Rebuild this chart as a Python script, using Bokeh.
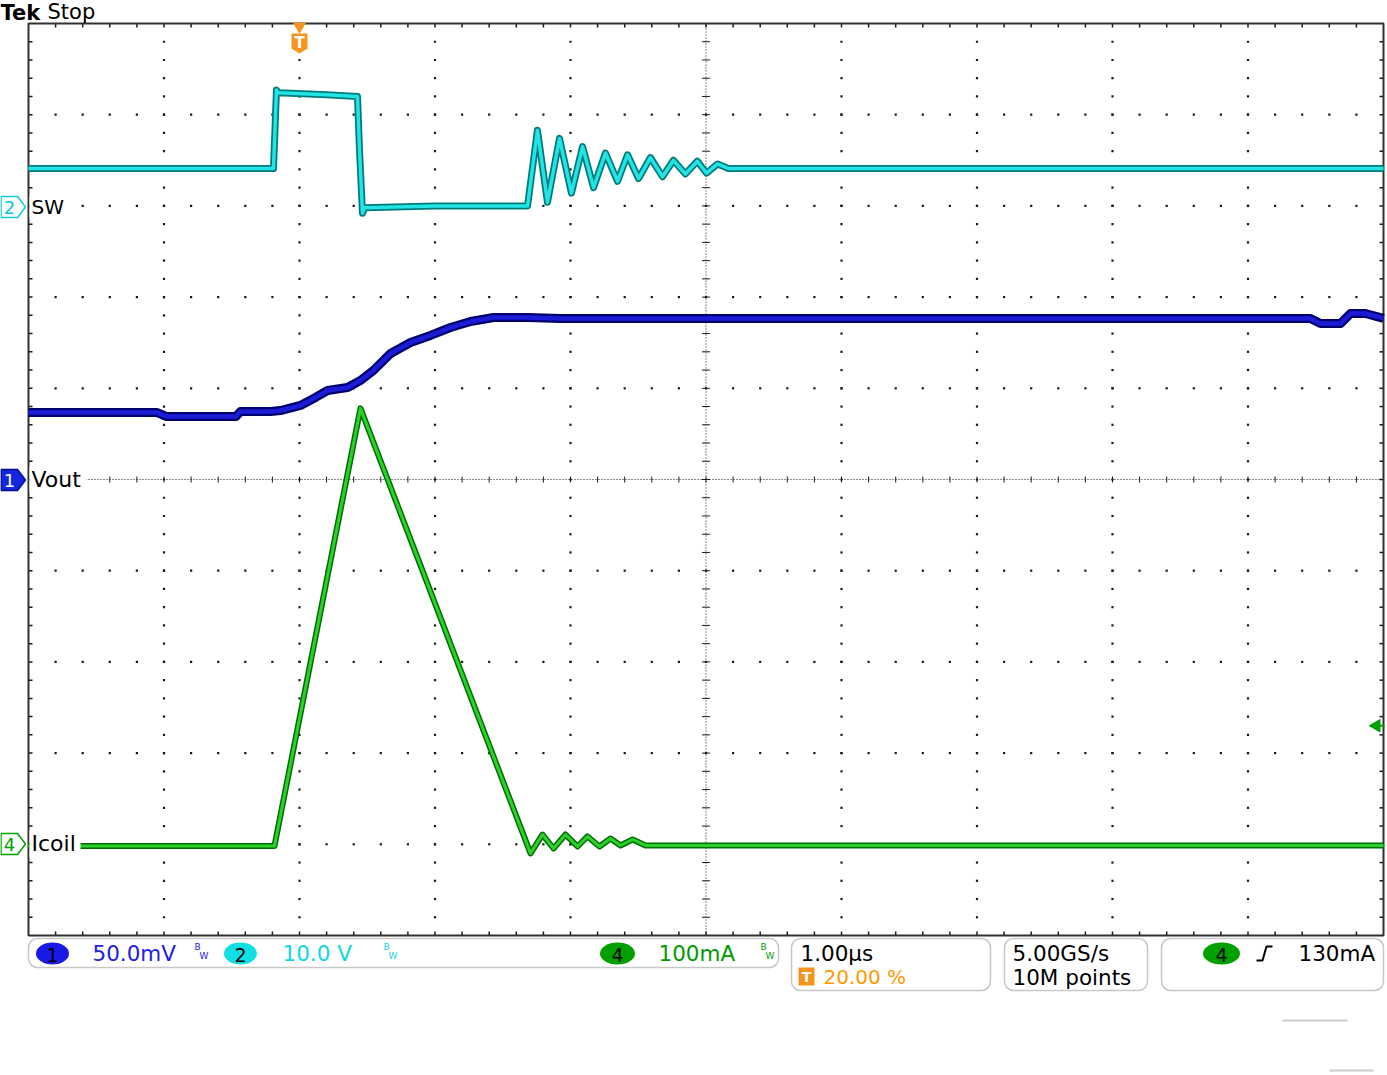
from bokeh.plotting import figure
from bokeh.models import Range1d, BoxAnnotation
from bokeh.core.properties import value
from bokeh.embed import file_html
from bokeh.resources import INLINE

# ---------------- data ----------------
# time base 1.00 us/div, trigger at 20 % of record -> t = 0 us
# CH2 "SW" : 10.0 V/div, ground marker at +3 div
sw_time_us = [-2.0, -0.192, -0.170, -0.155, 0.20, 0.428, 0.443, 0.465, 0.480, 1.00,
              1.683, 1.756, 1.830, 1.919, 2.007, 2.089, 2.170, 2.258, 2.347, 2.421,
              2.502, 2.590, 2.679, 2.760, 2.848, 2.936, 3.004, 3.085, 3.166, 8.0]
sw_volts = [4.1, 4.1, 12.7, 12.4, 12.2, 12.0, 6.1, -0.8, -0.2, 0.0,
            0.0, 8.3, 0.4, 7.4, 1.4, 6.5, 2.0, 5.8, 2.7, 5.6,
            3.0, 5.3, 3.2, 5.0, 3.5, 4.9, 3.6, 4.6, 4.1, 4.1]

# CH1 "Vout" : 50.0 mV/div, marker at 0 div
vout_time_us = [-2.0, -1.05, -0.98, -0.47, -0.435, -0.214, -0.140, 0.007, 0.118, 0.207,
                0.354, 0.450, 0.546, 0.672, 0.819, 0.967, 1.114, 1.262, 1.432, 1.683,
                1.926, 7.461, 7.535, 7.683, 7.757, 7.867, 8.0]
vout_mv = [36.7, 36.7, 34.5, 34.5, 37.3, 37.3, 37.8, 40.6, 45.0, 48.8,
           50.4, 54.3, 59.8, 69.1, 75.1, 79.0, 83.3, 86.6, 88.8, 88.8,
           88.3, 88.3, 85.5, 85.5, 91.0, 91.0, 88.3]

# CH4 "Icoil" : 100 mA/div, marker at -4 div
icoil_time_us = [-2.0, -0.185, 0.450, 1.705, 1.793, 1.875, 1.963, 2.052, 2.125, 2.214,
                 2.295, 2.369, 2.458, 2.554, 8.0]
icoil_ma = [-2.0, -2.0, 478.0, -10.0, 10.7, -4.6, 10.7, -2.4, 8.6, -2.4,
            6.4, -1.3, 5.3, -1.3, -1.3]

sw_scale, sw_offset = 10.0, 3.0
vout_scale, vout_offset = 50.0, 0.0
icoil_scale, icoil_offset = 100.0, -4.0
trigger_level_ma = 130.0

# ---------------- geometry helpers (screen pixels -> plot units, decoration only) ----
def X(px):
    return -2.0 + (px - 28.0) / 135.5

def Y(py):
    return (479.0 - py) / 91.2

BL = 8.0  # baseline correction for alphabetic text

W, H = 1386, 1072
p = figure(width=W, height=H, output_backend="svg", toolbar_location=None,
           x_range=Range1d(X(0), X(W)), y_range=Range1d(Y(H), Y(0)),
           x_axis_type=None, y_axis_type=None,
           min_border=0, min_border_left=0, min_border_right=0,
           min_border_top=0, min_border_bottom=0,
           outline_line_color=None, background_fill_color="white",
           border_fill_color="white")
p.xgrid.visible = False
p.ygrid.visible = False

dot = "#1a1a1a"
minor_x = [-2 + 0.2 * j for j in range(1, 50)]
minor_y = [-5 + 0.2 * j for j in range(1, 50)]

# graticule dots
gx, gy = [], []
for k in [-1, 0, 1, 2, 4, 5, 6, 7]:
    for yy in minor_y:
        gx.append(k); gy.append(yy)
for m in [-4, -3, -2, -1, 1, 2, 3, 4]:
    for xx in minor_x:
        gx.append(xx); gy.append(m)
p.scatter(gx, gy, marker="square", size=2.2, fill_color=dot, line_color=None)

# edge ticks
tl = 4.0
p.segment(x0=minor_x, x1=minor_x, y0=[5] * 49, y1=[5 - tl / 91.2] * 49, line_color=dot, line_width=1.5)
p.segment(x0=minor_x, x1=minor_x, y0=[-5] * 49, y1=[-5 + tl / 91.2] * 49, line_color=dot, line_width=1.5)
p.segment(x0=[-2] * 49, x1=[-2 + tl / 135.5] * 49, y0=minor_y, y1=minor_y, line_color=dot, line_width=1.5)
p.segment(x0=[8] * 49, x1=[8 - tl / 135.5] * 49, y0=minor_y, y1=minor_y, line_color=dot, line_width=1.5)

# center cross
p.line([-2, 8], [0, 0], line_color=dot, line_width=1, line_dash="1 2")
p.line([3, 3], [-5, 5], line_color=dot, line_width=1, line_dash="1 2")
p.segment(x0=minor_x, x1=minor_x, y0=[3 / 91.2] * 49, y1=[-3 / 91.2] * 49, line_color=dot, line_width=1)
p.segment(x0=[3 - 4 / 135.5] * 49, x1=[3 + 4 / 135.5] * 49, y0=minor_y, y1=minor_y, line_color=dot, line_width=1)

# frame
p.quad(left=-2, right=8, bottom=-5, top=5, fill_color=None, line_color="#303030", line_width=2)

# ---------------- traces ----------------
sw_div = [v / sw_scale + sw_offset for v in sw_volts]
vout_div = [v / vout_scale + vout_offset for v in vout_mv]
icoil_div = [v / icoil_scale + icoil_offset for v in icoil_ma]

p.line(sw_time_us, sw_div, line_color="#007a7a", line_width=7, line_join="round")
p.line(sw_time_us, sw_div, line_color="#22e4e4", line_width=3.5, line_join="round")
p.line(vout_time_us, vout_div, line_color="#00006e", line_width=9, line_join="round")
p.line(vout_time_us, vout_div, line_color="#1c1cd8", line_width=4.5, line_join="round")
p.line(icoil_time_us, icoil_div, line_color="#006e00", line_width=6, line_join="round")
p.line(icoil_time_us, icoil_div, line_color="#2cd02c", line_width=3, line_join="round")

# ---------------- channel labels at left ----------------
font = value("DejaVu Sans")
p.quad(left=[X(29), X(29), X(29)], right=[X(65), X(86), X(80)],
       top=[Y(195), Y(466), Y(830)], bottom=[Y(218), Y(492), Y(857)],
       fill_color="white", line_color=None)
p.text(x=[X(31)], y=[Y(214 - BL)], text=["SW"],
       text_font=font, text_font_size="20px", text_color="black", text_baseline="alphabetic")
p.text(x=[X(31), X(31)], y=[Y(487 - BL), Y(851 - BL)], text=["Vout", "Icoil"],
       text_font=font, text_font_size="22px", text_color="black", text_baseline="alphabetic")

def badge(yc):
    return ([X(0.5), X(17), X(25), X(17), X(0.5)],
            [Y(yc - 10.5), Y(yc - 10.5), Y(yc), Y(yc + 10.5), Y(yc + 10.5)])

bx, by = badge(206.5)
p.patch(bx, by, fill_color="white", line_color="#10d0e0", line_width=1.5)
bx, by = badge(479.5)
p.patch(bx, by, fill_color="#1428e0", line_color="#0a0a90", line_width=1.5)
bx, by = badge(843.5)
p.patch(bx, by, fill_color="white", line_color="#00a000", line_width=1.5)
p.text(x=[X(9), X(9), X(9)], y=[Y(207), Y(480), Y(844)], text=["2", "1", "4"],
       text_font=font, text_font_size="18px", text_color=["#10c8d8", "white", "#00a000"],
       text_align="center", text_baseline="middle")

# ---------------- trigger markers ----------------
p.scatter([0], [Y(26)], marker="inverted_triangle", size=13, fill_color="#f7941d", line_color=None)
p.patch([X(291), X(307), X(307), X(299), X(291)], [Y(33), Y(33), Y(48), Y(53), Y(48)],
        fill_color="#f7941d", line_color=None)
p.text(x=[0], y=[Y(42)], text=["T"], text_font=font, text_font_size="15px",
       text_font_style="bold", text_color="white", text_align="center", text_baseline="middle")
trig_div = trigger_level_ma / icoil_scale + icoil_offset
p.patch([X(1368), X(1380), X(1380)], [trig_div, trig_div + 7 / 91.2, trig_div - 7 / 91.2],
        fill_color="#00a000", line_color=None)
p.line([X(1378), X(1384)], [trig_div, trig_div], line_color="#00a000", line_width=2)

# ---------------- header ----------------
p.text(x=[X(0)], y=[Y(20 - BL)], text=["Tek"], text_font=font, text_font_size="21px",
       text_font_style="bold", text_color="black", text_baseline="alphabetic")
p.text(x=[X(47)], y=[Y(19 - BL)], text=["Stop"], text_font=font, text_font_size="21px",
       text_color="black", text_baseline="alphabetic")

# ---------------- footer readouts ----------------
for l, r, t, b in [(28, 778, 938, 967), (791, 990, 938, 990), (1004, 1147, 938, 990), (1161, 1383, 938, 990)]:
    p.add_layout(BoxAnnotation(left=X(l), right=X(r), top=Y(t), bottom=Y(b), fill_color=None,
                               line_color="#4a4a4a", line_width=1.5, border_radius=9))

p.ellipse(x=[X(52), X(240), X(617), X(1221)], y=[Y(953)] * 4, width=[33, 33, 35, 37],
          height=22, width_units="screen", height_units="screen",
          fill_color=["#1a1ae8", "#10e0e6", "#00a000", "#00a000"], line_color=None)
p.text(x=[X(52), X(240), X(617), X(1221)], y=[Y(954)] * 4, text=["1", "2", "4", "4"],
       text_font=font, text_font_size="19px", text_color="black",
       text_align="center", text_baseline="middle")

p.text(x=[X(92), X(282), X(658), X(800), X(1012), X(1012), X(1298)],
       y=[Y(961 - BL), Y(961 - BL), Y(961 - BL), Y(961 - BL), Y(961 - BL), Y(985 - BL), Y(961 - BL)],
       text=["50.0mV", "10.0 V", "100mA", "1.00\u00b5s", "5.00GS/s", "10M points", "130mA"],
       text_font=font, text_font_size="21.5px",
       text_color=["#2020e6", "#10d8e0", "#009a00", "black", "black", "black", "black"],
       text_baseline="alphabetic")
# bandwidth-limit marks
p.text(x=[X(194), X(383), X(760)], y=[Y(951 - BL + 3)] * 3, text=["B", "B", "B"], text_font=font,
       text_font_size="9px", text_color=["#2020e6", "#10d8e0", "#009a00"], text_baseline="alphabetic")
p.text(x=[X(199), X(388), X(765)], y=[Y(960 - BL + 3)] * 3, text=["W", "W", "W"], text_font=font,
       text_font_size="9px", text_color=["#2020e6", "#10d8e0", "#009a00"], text_baseline="alphabetic")

# trigger position readout
p.quad(left=X(798), right=X(814), top=Y(967), bottom=Y(985), fill_color="#f7941d", line_color=None)
p.text(x=[X(806)], y=[Y(976.5)], text=["T"], text_font=font, text_font_size="14px",
       text_font_style="bold", text_color="white", text_align="center", text_baseline="middle")
p.text(x=[X(823)], y=[Y(984 - BL)], text=["20.00 %"], text_font=font, text_font_size="20px",
       text_color="#ff9a00", text_baseline="alphabetic")
# rising edge symbol
p.line([X(1256), X(1262), X(1266), X(1272)], [Y(960), Y(960), Y(946), Y(946)],
       line_color="black", line_width=2)
# faint artefact lines
p.line([X(1282), X(1347)], [Y(1020), Y(1020)], line_color="#cccccc", line_width=2)
p.line([X(1329), X(1373)], [Y(1070), Y(1070)], line_color="#cccccc", line_width=2)

open("out.html", "w").write(file_html(p, INLINE))
